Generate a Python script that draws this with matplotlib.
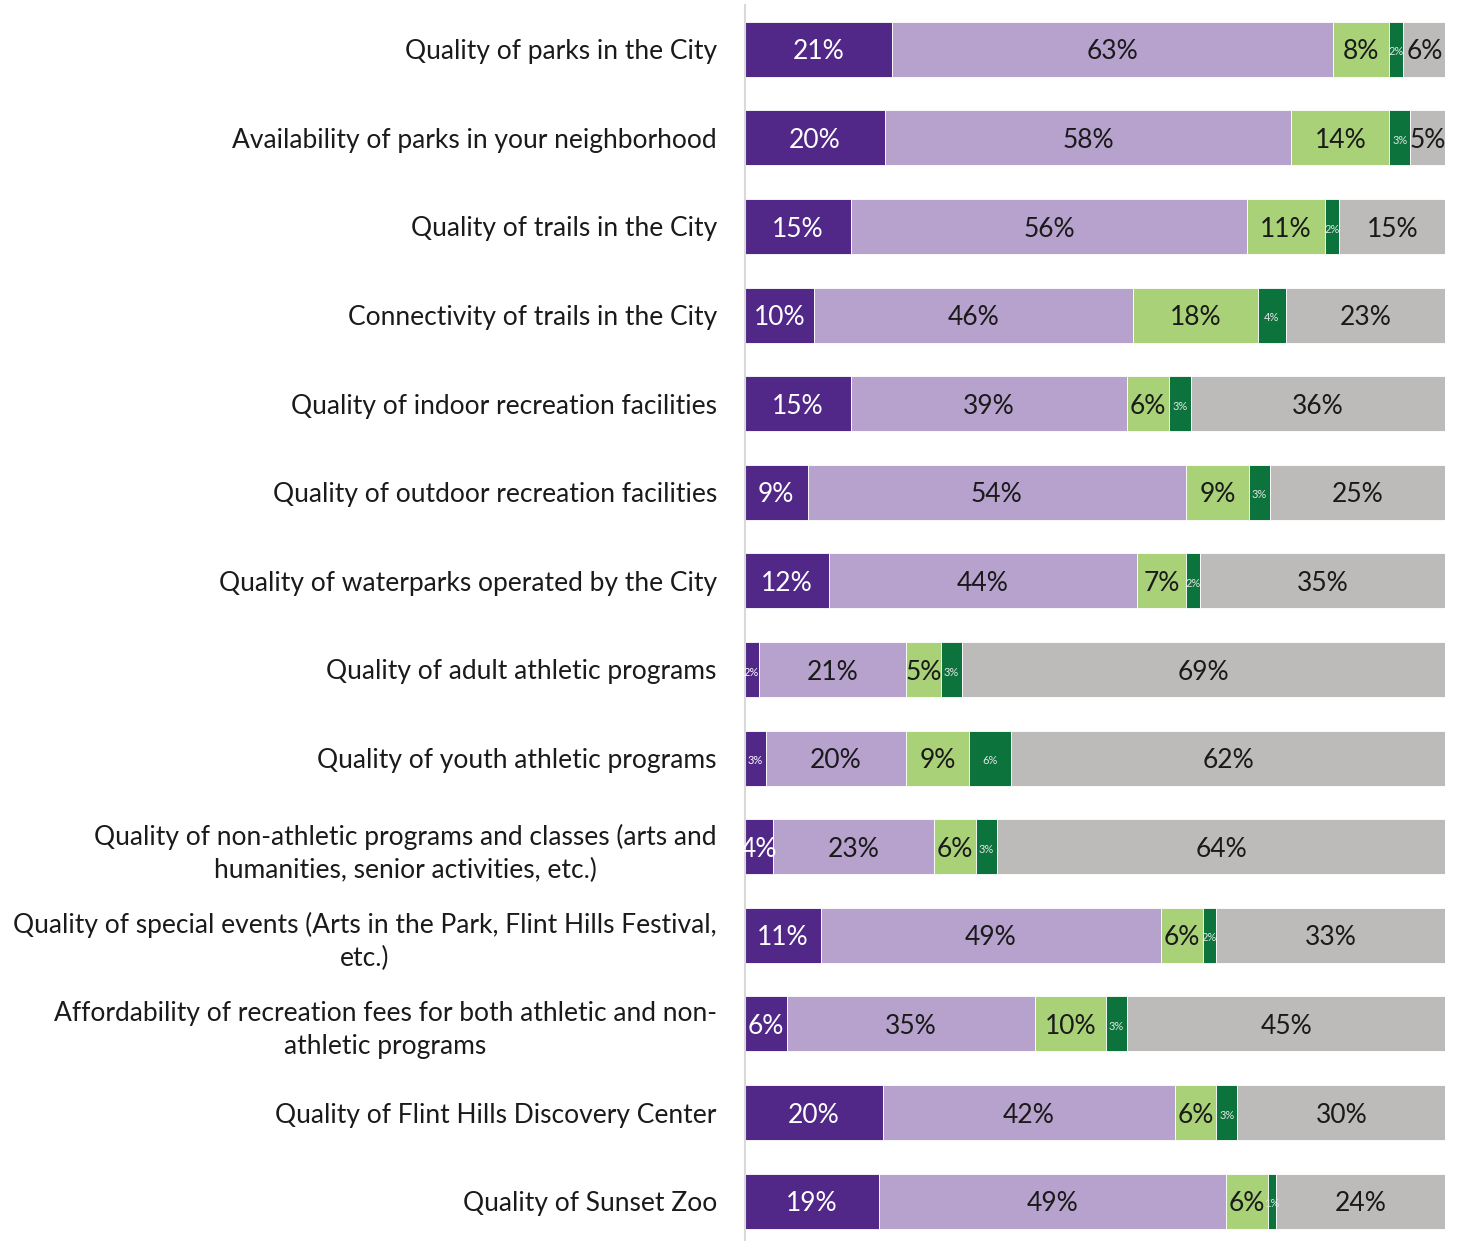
import numpy as np
import matplotlib
matplotlib.use("Agg")
import matplotlib.pyplot as plt

plt.rcParams['font.family'] = ['Lato', 'DejaVu Sans']

# survey items, top to bottom
items = [
    "Quality of parks in the City",
    "Availability of parks in your neighborhood",
    "Quality of trails in the City",
    "Connectivity of trails in the City",
    "Quality of indoor recreation facilities",
    "Quality of outdoor recreation facilities",
    "Quality of waterparks operated by the City",
    "Quality of adult athletic programs",
    "Quality of youth athletic programs",
    "Quality of non-athletic programs and classes (arts and\nhumanities, senior activities, etc.)",
    "Quality of special events (Arts in the Park, Flint Hills Festival,\netc.)",
    "Affordability of recreation fees for both athletic and non-\nathletic programs",
    "Quality of Flint Hills Discovery Center",
    "Quality of Sunset Zoo",
]

# percentages per rating category
very_satisfied = [21, 20, 15, 10, 15, 9, 12, 2, 3, 4, 11, 6, 20, 19]
satisfied = [63, 58, 56, 46, 39, 54, 44, 21, 20, 23, 49, 35, 42, 49]
dissatisfied = [8, 14, 11, 18, 6, 9, 7, 5, 9, 6, 6, 10, 6, 6]
very_dissatisfied = [2, 3, 2, 4, 3, 3, 2, 3, 6, 3, 2, 3, 3, 1]
dont_know = [6, 5, 15, 23, 36, 25, 35, 69, 62, 64, 33, 45, 30, 24]

series = [very_satisfied, satisfied, dissatisfied, very_dissatisfied, dont_know]
colors = ['#512888', '#B7A1CD', '#A9D177', '#0B733B', '#BDBBBA']
text_colors = ['white', '#1a1a1a', '#1a1a1a', '#e6e6e6', '#1a1a1a']

fig = plt.figure(figsize=(14.6, 12.41), dpi=100)
ax = fig.add_axes([0.510, 0.0, 0.480, 0.996])

data = np.array(series, dtype=float)
totals = data.sum(axis=0)
y = np.arange(len(items))
left = np.zeros(len(items))

for k, vals in enumerate(data):
    widths = vals / totals * 100
    ax.barh(y, widths, left=left, height=0.62, color=colors[k],
            edgecolor='white', linewidth=0.6)
    for i in range(len(items)):
        small = (k == 3) or (k == 0 and vals[i] <= 3)
        ax.text(left[i] + widths[i] / 2, y[i] + 0.03, f"{int(vals[i])}%",
                ha='center', va='center', color=text_colors[k],
                fontsize=8 if small else 19)
    left += widths

ax.set_xlim(0, 100)
ax.set_ylim(13.45, -0.5)
ax.set_yticks(y)
ax.set_yticklabels(items, fontsize=19, color='#1a1a1a',
                   ha='right', multialignment='center', linespacing=1.4)
ax.tick_params(axis='y', length=0, pad=20)
ax.set_xticks([])
for s in ['top', 'right', 'bottom']:
    ax.spines[s].set_visible(False)
ax.spines['left'].set_color('#d9d9d9')
ax.spines['left'].set_linewidth(1.5)

fig.savefig("out.png", dpi=100)
